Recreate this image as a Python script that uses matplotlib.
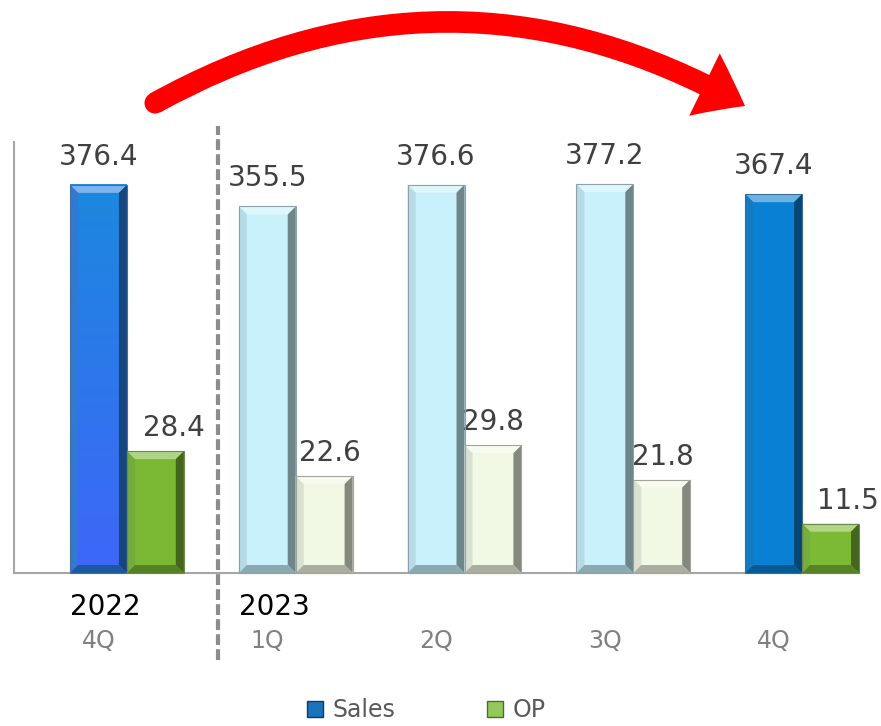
import numpy as np
import matplotlib
matplotlib.use("Agg")
import matplotlib.pyplot as plt
from matplotlib.patches import Polygon, Patch, FancyArrowPatch, Circle
from matplotlib.colors import to_rgb, LinearSegmentedColormap
from matplotlib.transforms import IdentityTransform, blended_transform_factory

# data
quarters = ["4Q", "1Q", "2Q", "3Q", "4Q"]
years = ["2022", "2023", "", "", ""]
sales = [376.4, 355.5, 376.6, 377.2, 367.4]
op = [28.4, 22.6, 29.8, 21.8, 11.5]

sales_colors = ["#2a7fe6", "#c8f1fb", "#c8f1fb", "#c8f1fb", "#0a80d2"]
op_colors = ["#7ab833", "#f1f8e4", "#f1f8e4", "#f1f8e4", "#7cba35"]
op_label_dx = [19, 6, 0, 1, 17]   # px nudges of the OP labels


def mix(c, other, t):
    a = np.array(to_rgb(c))
    b = np.array(to_rgb(other))
    return tuple(a * (1 - t) + b * t)


def bevel(fig, rect, color, s=8):
    bb = rect.get_window_extent()
    x0, y0, x1, y1 = bb.x0, bb.y0, bb.x1, bb.y1
    faces = [
        ([(x0, y1), (x1, y1), (x1 - s, y1 - s), (x0 + s, y1 - s)], mix(color, "white", 0.4)),
        ([(x0, y0), (x0, y1), (x0 + s, y1 - s), (x0 + s, y0 + s)], mix(color, "#506070", 0.15)),
        ([(x1, y0), (x1, y1), (x1 - s, y1 - s), (x1 - s, y0 + s)], mix(color, "black", 0.45)),
        ([(x0, y0), (x1, y0), (x1 - s, y0 + s), (x0 + s, y0 + s)], mix(color, "black", 0.3)),
    ]
    for pts, fc in faces:
        fig.add_artist(Polygon(pts, closed=True, facecolor=fc, edgecolor="none",
                               transform=IdentityTransform(), zorder=2))
    fig.add_artist(Polygon([(x0, y0), (x1, y0), (x1, y1), (x0, y1)], closed=True,
                           facecolor="none", edgecolor=mix(color, "#606060", 0.55),
                           lw=0.8, transform=IdentityTransform(), zorder=2.1))


fig = plt.figure(figsize=(8.81, 7.26), dpi=100)
ax = fig.add_axes([14 / 881, 153 / 726, 845 / 881, 431 / 726])
ax2 = ax.twinx()

x = np.arange(len(quarters))
w = 0.337
sales_bars = ax.bar(x - w / 2, sales, w, color=sales_colors, zorder=2)
op_bars = ax2.bar(x + w / 2, op, w, color=op_colors, zorder=2)

# gradient on the 2022 sales bar
r0 = sales_bars[0]
grad = LinearSegmentedColormap.from_list("g", ["#1c88de", "#3f66f8"])
ax.imshow(np.linspace(0, 1, 200)[:, None], cmap=grad, origin="upper", aspect="auto",
          extent=[r0.get_x(), r0.get_x() + r0.get_width(), 0, r0.get_height()],
          clip_path=r0, zorder=2.5)
ax.set_xlim(-0.669, 4.337)
ax.set_ylim(0, 418)
ax2.set_ylim(0, 100.5)

for a in (ax, ax2):
    for side in ("top", "right"):
        a.spines[side].set_visible(False)
    a.set_yticks([])
ax2.spines["left"].set_visible(False)
ax2.spines["bottom"].set_visible(False)
for side in ("left", "bottom"):
    ax.spines[side].set_color("#a6a6a6")
    ax.spines[side].set_linewidth(1.5)

ax.set_xticks(x - w / 2, quarters)
ax.tick_params(axis="x", length=0, pad=40, labelsize=17, labelcolor="#808080")

# year labels
xt = blended_transform_factory(ax.transData, ax.transAxes)
for i, yr in enumerate(years):
    if yr:
        ax.text(i - w, -0.0975, yr, transform=xt, ha="left", va="baseline",
                fontsize=20, color="black")

# value labels
for i, v in enumerate(sales):
    ax.annotate(f"{v:.1f}", (i - w / 2, v), xytext=(0, 14.4), textcoords="offset points",
                ha="center", va="baseline", fontsize=20, color="#404040")
for i, v in enumerate(op):
    ax2.annotate(f"{v:.1f}", (i + w / 2, v), xytext=(op_label_dx[i] * 0.72, 10.8),
                 textcoords="offset points", ha="center", va="baseline",
                 fontsize=20, color="#404040")

# dashed separator
ax.plot([0.54, 0.54], [-0.202, 1.037], transform=xt, clip_on=False,
        color="#8c8c8c", lw=3, ls=(0, (2.6, 1.0)), dash_capstyle="butt", zorder=1)

# red arrow (figure pixel coords, origin bottom-left)
W, H = 881, 726
start_px = (155, H - 103)
end_px = (745, H - 106)
arrow = FancyArrowPatch((start_px[0] / W, start_px[1] / H), (end_px[0] / W, end_px[1] / H),
                        transform=fig.transFigure, connectionstyle="arc3,rad=-0.28",
                        arrowstyle="simple,head_width=5.0,head_length=3.3,tail_width=1.55",
                        mutation_scale=10, color="#ff0000", shrinkA=0, shrinkB=0, lw=0)
fig.add_artist(arrow)
fig.add_artist(Circle(start_px, 10.5, transform=IdentityTransform(), color="#ff0000", lw=0))

# legend
handles = [Patch(facecolor="#1a72bb", edgecolor="#0d3a66"),
           Patch(facecolor="#93c95a", edgecolor="#4d6b2a")]
leg = fig.legend(handles, ["Sales", "OP"], loc="center", bbox_to_anchor=(0.484, 0.022),
                 ncol=2, frameon=False, fontsize=17, handlelength=0.68, handleheight=0.68,
                 handletextpad=0.38, columnspacing=3.9, borderpad=0)
for t in leg.get_texts():
    t.set_color("#595959")

fig.canvas.draw()
for r, c in zip(sales_bars, sales_colors):
    bevel(fig, r, c)
for r, c in zip(op_bars, op_colors):
    bevel(fig, r, c)

fig.savefig("out.png", dpi=100)
